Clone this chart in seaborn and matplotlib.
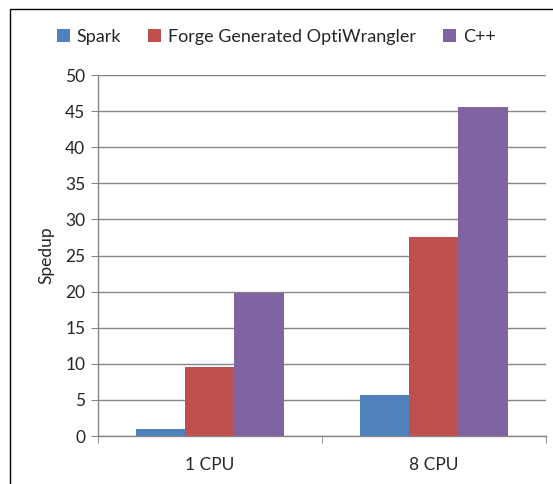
import numpy as np
import pandas as pd
import matplotlib
matplotlib.use('Agg')
from matplotlib import pyplot as plt
from matplotlib.patches import Rectangle
import seaborn as sns

# chart values
categories = ['1 CPU', '8 CPU']
series = ['Spark', 'Forge Generated OptiWrangler', 'C++']
spark = [1.0, 5.7]
forge = [9.6, 27.6]
cpp = [19.8, 45.6]
colors = ['#4F81BD', '#C0504D', '#8064A2']

df = pd.DataFrame({
    'cpu': categories * 3,
    'system': [s for s in series for _ in categories],
    'speedup': spark + forge + cpp,
})

sns.set_style('white')
plt.rcParams['font.family'] = ['Lato', 'DejaVu Sans']

fig = plt.figure(figsize=(5.53, 4.84), dpi=100)
ax = fig.add_axes([0.177, 0.099, 0.81, 0.746])

sns.barplot(data=df, x='cpu', y='speedup', hue='system', palette=colors,
            width=0.66, gap=0, saturation=1, ax=ax, zorder=3)
for p in ax.patches:
    p.set_edgecolor('none')

ax.set_ylim(0, 50)
ax.set_xlim(-0.5, 1.5)
ax.set_yticks(np.arange(0, 51, 5))
ax.yaxis.grid(True, color='#868686', linewidth=1)
ax.set_axisbelow(True)
ax.set_xlabel('')
ax.set_ylabel('Spedup', fontsize=12.5, labelpad=8)
ax.tick_params(axis='y', labelsize=12.5, length=5, color='#868686', left=True, pad=4)
ax.tick_params(axis='x', labelsize=12.5, length=0, pad=15)
# x ticks at category boundaries like excel
ax.set_xticks([-0.5, 0.5, 1.5], minor=True)
ax.tick_params(axis='x', which='minor', length=5, color='#868686', bottom=True)
for s in ['top', 'right']:
    ax.spines[s].set_visible(False)
for s in ['left', 'bottom']:
    ax.spines[s].set_color('#868686')
    ax.spines[s].set_linewidth(1)

ax.legend(loc='center', bbox_to_anchor=(0.5, 0.924), bbox_transform=fig.transFigure,
          ncol=3, frameon=False, fontsize=13, handlelength=0.7, handleheight=0.7,
          handletextpad=0.4, columnspacing=1.5, borderaxespad=0)

# outer chart frame
fig.patches.append(Rectangle((10 / 553, -0.1), 1.1, 1 - 9 / 484 + 0.1,
                             transform=fig.transFigure, fill=False,
                             edgecolor='black', linewidth=1))

plt.savefig('out.png', dpi=100)
